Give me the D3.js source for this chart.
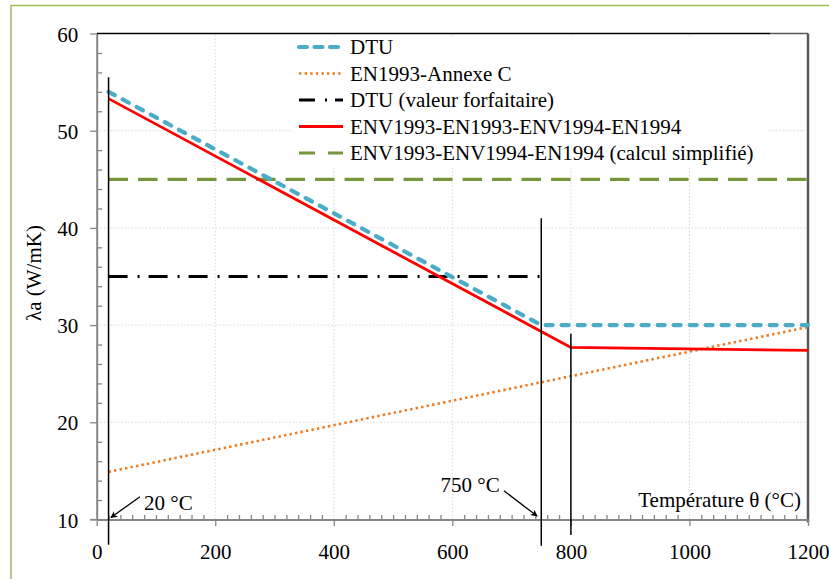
<!DOCTYPE html>
<html>
<head>
<meta charset="utf-8">
<script src="https://cdn.jsdelivr.net/npm/d3@7"></script>
<style>
  html, body { margin: 0; padding: 0; background: #fff; }
  svg { display: block; }
</style>
</head>
<body>
<svg id="chart" width="829" height="579"></svg>
<script>
// Thermal conductivity of steel λa (W/mK) versus temperature θ (°C)
const dtuTemp = [20, 750, 1200];
const dtuLambda = [54.0, 30.0, 30.0];

const annexCTemp = [20, 1200];
const annexCLambda = [14.9, 29.8];

const forfaitTemp = [20, 750];
const forfaitLambda = [35, 35];

const envTemp = [20, 800, 1200];
const envLambda = [53.3, 27.7, 27.4];

const simplTemp = [20, 1200];
const simplLambda = [45, 45];

const xTicks = [0, 200, 400, 600, 800, 1000, 1200];
const yTicks = [10, 20, 30, 40, 50, 60];

const seriesNames = [
  "DTU",
  "EN1993-Annexe C",
  "DTU (valeur forfaitaire)",
  "ENV1993-EN1993-ENV1994-EN1994",
  "ENV1993-ENV1994-EN1994 (calcul simplifié)"
];

// Vertical reference lines: temperature, lower and upper λ extent
const markerTemps = [20, 750, 800];
const markerLow = [7.4, 7.3, 8.4];
const markerHigh = [55.5, 41.0, 29.1];

// Callout labels: text, anchor temperature/λ for text, arrow start and tip
const calloutText = ["20 °C", "750 °C"];
const calloutTextPos = [[80, 10.95], [580, 12.8]];
const calloutArrowFrom = [[73, 12.35], [687, 12.95]];
const calloutArrowTo = [[24, 10.2], [743, 10.35]];

const FONT = "'Liberation Serif', 'Times New Roman', serif";
const FS = 21;

const svg = d3.select("#chart").attr("font-family", FONT);

const x = d3.scaleLinear().domain([0, 1200]).range([96.7, 808]);
const y = d3.scaleLinear().domain([10, 60]).range([519.5, 33.5]);

// Outer frame
svg.append("rect")
  .attr("x", 11).attr("y", 5.5)
  .attr("width", 840).attr("height", 600)
  .attr("fill", "none").attr("stroke", "#9bbb59").attr("stroke-width", 1.5);

// Gridlines
const grid = svg.append("g");
grid.selectAll(".gy").data(yTicks.filter(d => d > 10 && d < 60)).join("line")
  .attr("x1", x(0)).attr("x2", x(1200))
  .attr("y1", d => y(d)).attr("y2", d => y(d))
  .attr("stroke", "#d9d9d9").attr("stroke-width", 1).attr("stroke-dasharray", "1.5,2");
grid.selectAll(".gx").data(xTicks.filter(d => d > 0 && d < 1200)).join("line")
  .attr("x1", d => x(d)).attr("x2", d => x(d))
  .attr("y1", y(10)).attr("y2", y(60))
  .attr("stroke", "#d9d9d9").attr("stroke-width", 1).attr("stroke-dasharray", "1.5,2");

// Top and right border of plot area
svg.append("line").attr("x1", x(0)).attr("x2", 770).attr("y1", y(60)).attr("y2", y(60))
  .attr("stroke", "#000").attr("stroke-width", 1.5);
svg.append("line").attr("x1", 770).attr("x2", x(1200)).attr("y1", y(60)).attr("y2", y(60))
  .attr("stroke", "#595959").attr("stroke-width", 1.5);
svg.append("line").attr("x1", x(1200)).attr("x2", x(1200)).attr("y1", y(60)).attr("y2", y(10) + 3)
  .attr("stroke", "#595959").attr("stroke-width", 2.5);

// Axes
const axisColor = "#868686";
const xMinor = d3.range(20, 1200, 20).filter(d => d % 200 !== 0);
const yMinor = d3.range(12, 60, 2).filter(d => d % 10 !== 0);

const xAxisMajor = svg.append("g").attr("transform", `translate(0,${y(10)})`)
  .call(d3.axisBottom(x).tickValues(xTicks).tickSize(6.5).tickSizeOuter(0).tickFormat(d3.format("d")));
const xAxisMinor = svg.append("g").attr("transform", `translate(0,${y(10)})`)
  .call(d3.axisTop(x).tickValues(xMinor).tickSize(4.5).tickSizeOuter(0).tickFormat(""));
const yAxisMajor = svg.append("g").attr("transform", `translate(${x(0)},0)`)
  .call(d3.axisLeft(y).tickValues(yTicks).tickSize(6.5).tickSizeOuter(0).tickFormat(d3.format("d")));
const yAxisMinor = svg.append("g").attr("transform", `translate(${x(0)},0)`)
  .call(d3.axisRight(y).tickValues(yMinor).tickSize(5.5).tickSizeOuter(0).tickFormat(""));

[xAxisMajor, xAxisMinor, yAxisMajor, yAxisMinor].forEach(g => {
  g.attr("font-family", FONT);
  g.select(".domain").attr("stroke", axisColor).attr("stroke-width", 2);
  g.selectAll(".tick line").attr("stroke", axisColor).attr("stroke-width", 1.3);
});
xAxisMinor.select(".domain").remove();
yAxisMinor.select(".domain").remove();
// extend x-axis line left to meet the major tick of the y axis
svg.append("line").attr("x1", x(0) - 6.5).attr("x2", x(0)).attr("y1", y(10)).attr("y2", y(10))
  .attr("stroke", axisColor).attr("stroke-width", 1.3);

xAxisMajor.selectAll(".tick text")
  .attr("font-size", FS).attr("fill", "#000")
  .attr("y", 0).attr("dy", null).attr("transform", "translate(0,39.5)");
yAxisMajor.selectAll(".tick text")
  .attr("font-size", FS).attr("fill", "#000")
  .attr("x", -18.5).attr("dy", "0.36em");

// Axis titles
svg.append("text")
  .attr("transform", `translate(41,273) rotate(-90)`)
  .attr("text-anchor", "middle")
  .attr("font-size", FS).attr("fill", "#000")
  .text("λa (W/mK)");
svg.append("text")
  .attr("x", 801).attr("y", 507)
  .attr("text-anchor", "end")
  .attr("font-size", FS).attr("fill", "#000")
  .text("Température θ (°C)");

// Series styles
const styles = [
  { color: "#4bacc6", width: 4.2, dash: "7,9", cap: "round" },
  { color: "#ee7b22", width: 2.6, dash: "2.4,3.2", cap: "butt" },
  { color: "#000000", width: 2.8, dash: "19,10,2,9", cap: "butt" },
  { color: "#ff0000", width: 2.8, dash: null, cap: "butt" },
  { color: "#77963b", width: 3.2, dash: "19.5,10", cap: "butt" }
];

const seriesData = [
  d3.zip(dtuTemp, dtuLambda),
  d3.zip(annexCTemp, annexCLambda),
  d3.zip(forfaitTemp, forfaitLambda),
  d3.zip(envTemp, envLambda),
  d3.zip(simplTemp, simplLambda)
];

const line = d3.line().x(d => x(d[0])).y(d => y(d[1]));

// Drawing order: green, orange, black, red, blue on top
const drawOrder = [4, 1, 2, 3, 0];
const lines = svg.append("g");
drawOrder.forEach(i => {
  lines.append("path")
    .datum(seriesData[i])
    .attr("d", line)
    .attr("fill", "none")
    .attr("stroke", styles[i].color)
    .attr("stroke-width", styles[i].width)
    .attr("stroke-dasharray", styles[i].dash)
    .attr("stroke-linecap", styles[i].cap)
    .attr("stroke-linejoin", "round");
});

// Vertical reference lines
svg.append("g").selectAll("line").data(markerTemps).join("line")
  .attr("x1", d => x(d)).attr("x2", d => x(d))
  .attr("y1", (d, i) => y(markerHigh[i])).attr("y2", (d, i) => y(markerLow[i]))
  .attr("stroke", "#000").attr("stroke-width", 1.5);

// Callouts with arrows
const defs = svg.append("defs");
defs.append("marker")
  .attr("id", "arrow")
  .attr("viewBox", "0 0 10 10")
  .attr("refX", 9).attr("refY", 5)
  .attr("markerWidth", 7).attr("markerHeight", 7)
  .attr("markerUnits", "userSpaceOnUse")
  .attr("orient", "auto")
  .append("path")
  .attr("d", "M0,0 L10,5 L0,10 L3,5 Z")
  .attr("fill", "#000");

calloutText.forEach((t, i) => {
  svg.append("text")
    .attr("x", x(calloutTextPos[i][0])).attr("y", y(calloutTextPos[i][1]))
    .attr("font-size", FS).attr("fill", "#000")
    .text(t);
  svg.append("line")
    .attr("x1", x(calloutArrowFrom[i][0])).attr("y1", y(calloutArrowFrom[i][1]))
    .attr("x2", x(calloutArrowTo[i][0])).attr("y2", y(calloutArrowTo[i][1]))
    .attr("stroke", "#000").attr("stroke-width", 1.3)
    .attr("marker-end", "url(#arrow)");
});

// Legend
const legend = svg.append("g");
legend.append("rect")
  .attr("x", 293).attr("y", 36).attr("width", 475).attr("height", 130)
  .attr("fill", "#fff");
const rowY = [47, 73.5, 100, 126.5, 153];
const legendDash = ["8,7.5", "2.4,3.2", "16,10,2,8", null, "16,13"];
seriesNames.forEach((name, i) => {
  legend.append("line")
    .attr("x1", 299).attr("x2", 343)
    .attr("y1", rowY[i]).attr("y2", rowY[i])
    .attr("stroke", styles[i].color)
    .attr("stroke-width", styles[i].width)
    .attr("stroke-dasharray", legendDash[i])
    .attr("stroke-linecap", styles[i].cap);
  legend.append("text")
    .attr("x", 350).attr("y", rowY[i] + 7)
    .attr("font-size", FS).attr("fill", "#000")
    .text(name);
});
</script>
</body>
</html>
